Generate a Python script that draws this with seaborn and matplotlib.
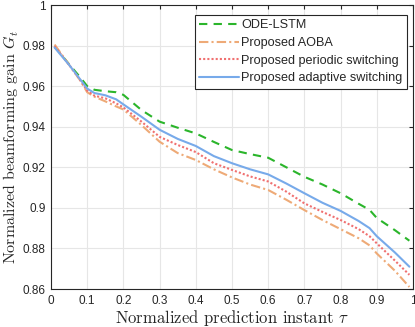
import numpy as np
import pandas as pd
import matplotlib
import matplotlib.pyplot as plt
import seaborn as sns

plt.switch_backend('Agg')

# Data
tau = [0.01, 0.05, 0.08, 0.10, 0.12, 0.15, 0.18, 0.20, 0.25, 0.30, 0.35, 0.40,
       0.45, 0.50, 0.55, 0.60, 0.65, 0.70, 0.75, 0.80, 0.85, 0.88, 0.90, 0.95, 0.99]

ode_lstm = [0.9795, 0.9708, 0.9645, 0.9600, 0.9582, 0.9575, 0.9570, 0.9557, 0.9482,
            0.9425, 0.9395, 0.9367, 0.9325, 0.9285, 0.9265, 0.9247, 0.9200, 0.9153,
            0.9115, 0.9072, 0.9020, 0.8990, 0.8950, 0.8890, 0.8838]
aoba = [0.9805, 0.9705, 0.9630, 0.9570, 0.9548, 0.9525, 0.9500, 0.9485, 0.9408,
        0.9326, 0.9270, 0.9236, 0.9190, 0.9150, 0.9115, 0.9088, 0.9040, 0.8989,
        0.8940, 0.8895, 0.8850, 0.8815, 0.8775, 0.8690, 0.8610]
periodic = [0.9797, 0.9705, 0.9632, 0.9578, 0.9553, 0.9540, 0.9515, 0.9495, 0.9425,
            0.9350, 0.9310, 0.9275, 0.9220, 0.9187, 0.9155, 0.9130, 0.9080, 0.9022,
            0.8980, 0.8940, 0.8895, 0.8860, 0.8825, 0.8740, 0.8670]
adaptive = [0.9790, 0.9705, 0.9635, 0.9588, 0.9566, 0.9555, 0.9535, 0.9510, 0.9449,
            0.9385, 0.9340, 0.9305, 0.9255, 0.9220, 0.9190, 0.9165, 0.9120, 0.9072,
            0.9025, 0.8985, 0.8935, 0.8900, 0.8860, 0.8780, 0.8710]

labels = ["ODE-LSTM", "Proposed AOBA", "Proposed periodic switching",
          "Proposed adaptive switching"]
colors = ["#2bb52b", "#eeaa77", "#f07070", "#77aaea"]
dashes = [(4, 3), (4.5, 1.5, 1, 1.5), (1, 1), ""]

df = pd.DataFrame({"tau": tau, labels[0]: ode_lstm, labels[1]: aoba,
                   labels[2]: periodic, labels[3]: adaptive})
long_df = df.melt(id_vars="tau", var_name="method", value_name="gain")

sns.set_style("whitegrid")
plt.rcParams['mathtext.fontset'] = 'cm'
plt.rcParams['font.family'] = ['Liberation Sans', 'DejaVu Sans']

fig = plt.figure(figsize=(4.15, 3.27), dpi=100)
ax = fig.add_axes([51 / 415, 1 - 289 / 327, 362 / 415, 284 / 327])

sns.lineplot(data=long_df, x="tau", y="gain", hue="method", style="method",
             hue_order=labels, style_order=labels, palette=colors,
             dashes=dashes, linewidth=1.5, ax=ax)

ax.set_xlim(0, 1)
ax.set_ylim(0.86, 1)
ax.set_xticks(np.arange(0, 1.01, 0.1))
ax.set_xticklabels(["0", "0.1", "0.2", "0.3", "0.4", "0.5", "0.6", "0.7", "0.8", "0.9", "1"])
ax.set_yticks(np.arange(0.86, 1.001, 0.02))
ax.set_yticklabels(["0.86", "0.88", "0.9", "0.92", "0.94", "0.96", "0.98", "1"])
ax.tick_params(labelsize=8.5, colors="#262626", length=3, direction="in",
               top=True, right=True, pad=4)
ax.grid(True, color="#e6e6e6", linewidth=0.8)
for s in ax.spines.values():
    s.set_color("#262626")
    s.set_linewidth(0.8)

ax.set_xlabel(r"Normalized prediction instant $\tau$", family="cmr10", fontsize=12, labelpad=1)
ax.set_ylabel(r"Normalized beamforming gain $\bar{G}_t$", family="cmr10", fontsize=11.5, labelpad=1)

leg = ax.legend(loc="upper right", bbox_to_anchor=(0.983, 0.965), fontsize=9.1,
                frameon=True, fancybox=False, handlelength=3.1, handletextpad=0.2,
                borderpad=0.35, labelspacing=0.45, borderaxespad=0)
leg.get_frame().set_edgecolor("#262626")
leg.get_frame().set_linewidth(0.8)
leg.get_frame().set_alpha(1)

fig.savefig("out.png", dpi=100)
